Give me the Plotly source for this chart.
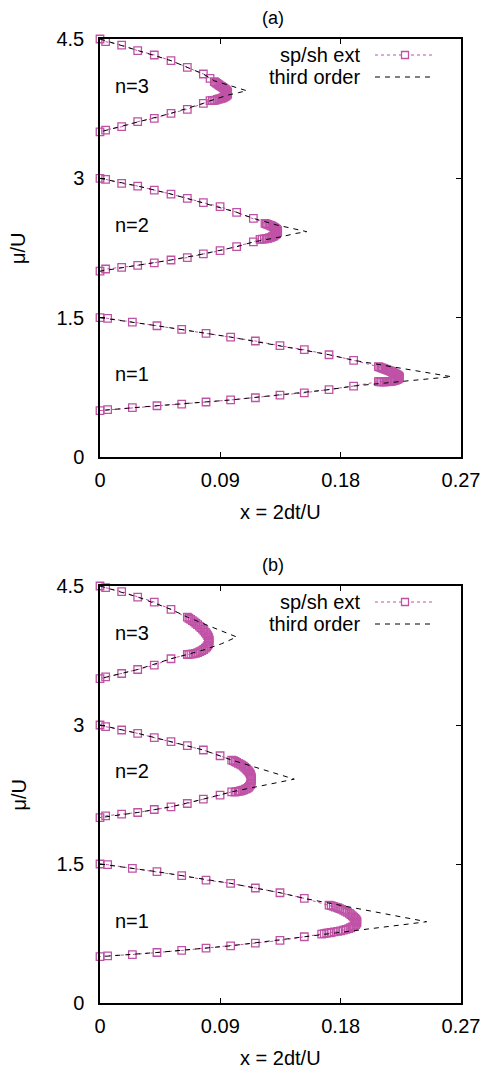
import plotly.graph_objects as go

# ---------------- data ----------------
# Panel (a): sp/sh ext markers, upper branch / dense tip arc / lower branch
a1_up_x = [0, 0.0057, 0.0242, 0.0426, 0.0611, 0.0793, 0.0977, 0.1162, 0.1346, 0.1528, 0.1713, 0.1897, 0.2082]
a1_up_y = [1.5, 1.493, 1.453, 1.413, 1.374, 1.331, 1.291, 1.249, 1.198, 1.155, 1.101, 1.041, 0.972]
a1_arc_x = [0.2092, 0.2102, 0.2112, 0.2122, 0.2132, 0.2142, 0.2152, 0.2162, 0.2172, 0.2181, 0.2190, 0.2199, 0.2208,
            0.2216, 0.2224, 0.2231, 0.2235, 0.2239, 0.2238, 0.2236, 0.2230, 0.2221, 0.2211, 0.2201, 0.2189, 0.2177,
            0.2165, 0.2152, 0.2140, 0.2127, 0.2115, 0.2102, 0.2092]
a1_arc_y = [0.967, 0.962, 0.957, 0.951, 0.946, 0.940, 0.935, 0.929, 0.924, 0.919, 0.911, 0.904, 0.897,
            0.890, 0.883, 0.876, 0.869, 0.861, 0.854, 0.847, 0.840, 0.833, 0.827, 0.822, 0.818, 0.815,
            0.813, 0.811, 0.810, 0.809, 0.809, 0.809, 0.810]
a1_lo_x = [0, 0.0057, 0.0242, 0.0426, 0.0611, 0.0793, 0.0977, 0.1162, 0.1346, 0.1528, 0.1713, 0.1897, 0.2082]
a1_lo_y = [0.5, 0.509, 0.531, 0.552, 0.570, 0.592, 0.614, 0.638, 0.667, 0.691, 0.725, 0.764, 0.811]

a2_up_x = [0, 0.0042, 0.0162, 0.0282, 0.0406, 0.0531, 0.0653, 0.0773, 0.0898, 0.1022, 0.1147, 0.1234]
a2_up_y = [3.0, 2.989, 2.946, 2.917, 2.874, 2.831, 2.785, 2.738, 2.695, 2.634, 2.569, 2.516]
a2_arc_x = [0.1244, 0.1254, 0.1264, 0.1274, 0.1284, 0.1294, 0.1302, 0.1309, 0.1315, 0.1321, 0.1325, 0.1329,
            0.1328, 0.1326, 0.1321, 0.1316, 0.1308, 0.1299, 0.1289, 0.1279, 0.1267, 0.1254, 0.1242, 0.1229, 0.1213]
a2_arc_y = [2.510, 2.505, 2.500, 2.494, 2.487, 2.480, 2.473, 2.465, 2.458, 2.451, 2.442, 2.433,
            2.424, 2.415, 2.406, 2.397, 2.388, 2.379, 2.372, 2.365, 2.359, 2.354, 2.350, 2.347, 2.345]
a2_lo_x = [0, 0.0042, 0.0162, 0.0282, 0.0406, 0.0531, 0.0653, 0.0773, 0.0898, 0.1022, 0.1147, 0.1197]
a2_lo_y = [2.0, 2.024, 2.042, 2.064, 2.089, 2.121, 2.146, 2.186, 2.221, 2.264, 2.315, 2.343]

a3_up_x = [0, 0.0042, 0.0162, 0.0282, 0.0406, 0.0531, 0.0653, 0.0773, 0.0823, 0.0855]
a3_up_y = [4.5, 4.471, 4.435, 4.374, 4.328, 4.267, 4.195, 4.123, 4.077, 4.041]
a3_arc_x = [0.0864, 0.0873, 0.0882, 0.0890, 0.0900, 0.0910, 0.0919, 0.0927, 0.0935, 0.0942, 0.0947, 0.0952,
            0.0954, 0.0955, 0.0954, 0.0950, 0.0943, 0.0935, 0.0926, 0.0915, 0.0903, 0.0890, 0.0878, 0.0865,
            0.0852, 0.0840]
a3_arc_y = [4.032, 4.023, 4.014, 4.005, 3.996, 3.987, 3.978, 3.969, 3.960, 3.951, 3.942, 3.933,
            3.924, 3.915, 3.906, 3.897, 3.888, 3.879, 3.872, 3.865, 3.859, 3.854, 3.849, 3.843,
            3.840, 3.838]
a3_lo_x = [0, 0.0042, 0.0162, 0.0282, 0.0406, 0.0531, 0.0653, 0.0773, 0.0823]
a3_lo_y = [3.5, 3.520, 3.556, 3.610, 3.646, 3.700, 3.743, 3.807, 3.836]

# Panel (a): third order (upper branch and lower branch, both ending at the tip)
t_a1_up_x = [0, 0.0426, 0.0977, 0.1346, 0.1713, 0.1897, 0.2082, 0.2343, 0.2531, 0.263]
t_a1_up_y = [1.5, 1.413, 1.291, 1.198, 1.101, 1.041, 0.996, 0.933, 0.887, 0.864]
t_a1_lo_x = [0, 0.0426, 0.0977, 0.1346, 0.1713, 0.1897, 0.2082, 0.2343, 0.2531, 0.263]
t_a1_lo_y = [0.5, 0.552, 0.614, 0.667, 0.725, 0.764, 0.789, 0.825, 0.851, 0.864]
t_a2_up_x = [0, 0.0282, 0.0531, 0.0773, 0.1022, 0.1147, 0.1321, 0.1434, 0.1546]
t_a2_up_y = [3.0, 2.917, 2.831, 2.738, 2.634, 2.569, 2.498, 2.462, 2.426]
t_a2_lo_x = [0, 0.0282, 0.0531, 0.0773, 0.1022, 0.1147, 0.1359, 0.1458, 0.1546]
t_a2_lo_y = [2.0, 2.064, 2.121, 2.186, 2.264, 2.315, 2.372, 2.405, 2.426]
t_a3_up_x = [0, 0.0282, 0.0531, 0.0773, 0.0855, 0.0955, 0.1035, 0.1097]
t_a3_up_y = [4.5, 4.374, 4.267, 4.123, 4.050, 4.006, 3.970, 3.943]
t_a3_lo_x = [0, 0.0282, 0.0531, 0.0773, 0.0823, 0.0960, 0.1035, 0.1097]
t_a3_lo_y = [3.5, 3.610, 3.700, 3.807, 3.835, 3.897, 3.922, 3.943]

# Panel (b): sp/sh ext markers
b1_up_x = [0, 0.0057, 0.0242, 0.0426, 0.0611, 0.0793, 0.0977, 0.1162, 0.1346, 0.1528, 0.1713]
b1_up_y = [1.5, 1.493, 1.453, 1.417, 1.374, 1.327, 1.291, 1.241, 1.190, 1.129, 1.057]
b1_arc_x = [0.1729, 0.1745, 0.1761, 0.1778, 0.1793, 0.1808, 0.1823, 0.1837, 0.1851, 0.1865, 0.1876, 0.1887,
            0.1897, 0.1907, 0.1914, 0.1920, 0.1922, 0.1920, 0.1912, 0.1900, 0.1887, 0.1874, 0.1860, 0.1840,
            0.1820, 0.1799, 0.1778, 0.1753, 0.1728, 0.1711, 0.1695, 0.1677]
b1_arc_y = [1.050, 1.042, 1.035, 1.028, 1.019, 1.010, 0.999, 0.988, 0.978, 0.967, 0.954, 0.941,
            0.927, 0.913, 0.900, 0.887, 0.874, 0.862, 0.847, 0.833, 0.822, 0.812, 0.803, 0.794,
            0.786, 0.779, 0.773, 0.768, 0.761, 0.757, 0.754, 0.749]
b1_lo_x = [0, 0.0057, 0.0242, 0.0426, 0.0611, 0.0793, 0.0977, 0.1162, 0.1346, 0.1528, 0.1658]
b1_lo_y = [0.5, 0.509, 0.523, 0.545, 0.567, 0.592, 0.617, 0.646, 0.675, 0.715, 0.744]

b2_up_x = [0, 0.0042, 0.0162, 0.0282, 0.0406, 0.0531, 0.0653, 0.0773, 0.0898, 0.0985]
b2_up_y = [3.0, 2.982, 2.946, 2.910, 2.863, 2.820, 2.777, 2.730, 2.668, 2.622]
b2_arc_x = [0.0998, 0.1010, 0.1022, 0.1035, 0.1048, 0.1060, 0.1072, 0.1082, 0.1091, 0.1099, 0.1107, 0.1114,
            0.1120, 0.1125, 0.1129, 0.1132, 0.1134, 0.1133, 0.1130, 0.1125, 0.1118, 0.1110, 0.1100, 0.1088,
            0.1075, 0.1062, 0.1048, 0.1035, 0.1022, 0.1010]
b2_arc_y = [2.615, 2.606, 2.596, 2.586, 2.577, 2.568, 2.556, 2.543, 2.531, 2.519, 2.507, 2.495,
            2.481, 2.467, 2.452, 2.434, 2.416, 2.396, 2.377, 2.358, 2.340, 2.327, 2.316, 2.307,
            2.300, 2.293, 2.288, 2.284, 2.280, 2.276]
b2_lo_x = [0, 0.0042, 0.0162, 0.0282, 0.0406, 0.0531, 0.0653, 0.0773, 0.0898, 0.0985]
b2_lo_y = [2.0, 2.020, 2.038, 2.056, 2.088, 2.117, 2.153, 2.200, 2.243, 2.279]

b3_up_x = [0, 0.0042, 0.0162, 0.0282, 0.0406, 0.0531, 0.0653]
b3_up_y = [4.5, 4.482, 4.439, 4.381, 4.327, 4.248, 4.165]
b3_arc_x = [0.0665, 0.0678, 0.0691, 0.0704, 0.0717, 0.0730, 0.0743, 0.0755, 0.0767, 0.0778, 0.0788, 0.0797,
            0.0805, 0.0811, 0.0815, 0.0817, 0.0816, 0.0812, 0.0806, 0.0798, 0.0788, 0.0776, 0.0762, 0.0747,
            0.0731, 0.0714, 0.0697, 0.0680, 0.0665]
b3_arc_y = [4.152, 4.140, 4.127, 4.113, 4.098, 4.083, 4.067, 4.051, 4.034, 4.017, 4.000, 3.983,
            3.965, 3.947, 3.930, 3.912, 3.895, 3.877, 3.860, 3.844, 3.829, 3.815, 3.802, 3.791,
            3.782, 3.774, 3.768, 3.764, 3.762]
b3_lo_x = [0, 0.0042, 0.0162, 0.0282, 0.0406, 0.0531, 0.0653]
b3_lo_y = [3.5, 3.520, 3.556, 3.599, 3.646, 3.715, 3.761]

# Panel (b): third order
t_b1_up_x = [0, 0.0426, 0.0977, 0.1346, 0.1528, 0.1713, 0.1957, 0.2256, 0.2443]
t_b1_up_y = [1.5, 1.417, 1.291, 1.190, 1.129, 1.078, 1.012, 0.930, 0.877]
t_b1_lo_x = [0, 0.0426, 0.0977, 0.1346, 0.1528, 0.1713, 0.1957, 0.2256, 0.2443]
t_b1_lo_y = [0.5, 0.545, 0.617, 0.675, 0.713, 0.746, 0.790, 0.843, 0.877]
t_b2_up_x = [0, 0.0282, 0.0531, 0.0773, 0.0985, 0.1134, 0.1259, 0.1359, 0.1453]
t_b2_up_y = [3.0, 2.910, 2.820, 2.730, 2.622, 2.556, 2.501, 2.457, 2.416]
t_b2_lo_x = [0, 0.0282, 0.0531, 0.0773, 0.0985, 0.1134, 0.1259, 0.1359, 0.1453]
t_b2_lo_y = [2.0, 2.056, 2.117, 2.200, 2.279, 2.323, 2.359, 2.388, 2.416]
t_b3_up_x = [0, 0.0282, 0.0531, 0.0653, 0.0786, 0.0910, 0.1022]
t_b3_up_y = [4.5, 4.381, 4.248, 4.165, 4.086, 4.014, 3.950]
t_b3_lo_x = [0, 0.0282, 0.0531, 0.0653, 0.0786, 0.0910, 0.1022]
t_b3_lo_y = [3.5, 3.599, 3.715, 3.761, 3.815, 3.877, 3.950]

x_tick_vals = [0, 0.09, 0.18, 0.27]
x_tick_text = ["0", "0.09", "0.18", "0.27"]
y_tick_vals = [0, 1.5, 3, 4.5]
y_tick_text = ["0", "1.5", "3", "4.5"]
lobe_labels = ["n=1", "n=2", "n=3"]
lobe_label_y = [0.89, 2.50, 3.99]
panel_titles = ["(a)", "(b)"]
series_names = ["sp/sh ext", "third order"]

# ---------------- helpers ----------------
def lobe_path(up_x, up_y, arc_x, arc_y, lo_x, lo_y):
    return up_x + arc_x + lo_x[::-1], up_y + arc_y + lo_y[::-1]

def tp_path(up_x, up_y, lo_x, lo_y):
    return up_x + lo_x[::-1][1:], up_y + lo_y[::-1][1:]

def join(paths):
    xs, ys = [], []
    for i, (px_, py_) in enumerate(paths):
        if i:
            xs.append(None)
            ys.append(None)
        xs += px_
        ys += py_
    return xs, ys

PINK = "#c052a6"
FONT = "Liberation Sans, Arial, sans-serif"
OFF = 8                       # page body margin of the browser
W, H = 489 - OFF, 1073 - OFF  # figure size so that figure + offset == window

panels = {
    "a": dict(
        m=[lobe_path(a1_up_x, a1_up_y, a1_arc_x, a1_arc_y, a1_lo_x, a1_lo_y),
           lobe_path(a2_up_x, a2_up_y, a2_arc_x, a2_arc_y, a2_lo_x, a2_lo_y),
           lobe_path(a3_up_x, a3_up_y, a3_arc_x, a3_arc_y, a3_lo_x, a3_lo_y)],
        t=[tp_path(t_a1_up_x, t_a1_up_y, t_a1_lo_x, t_a1_lo_y),
           tp_path(t_a2_up_x, t_a2_up_y, t_a2_lo_x, t_a2_lo_y),
           tp_path(t_a3_up_x, t_a3_up_y, t_a3_lo_x, t_a3_lo_y)],
        xa="x", ya="y", top=39, bottom=457),
    "b": dict(
        m=[lobe_path(b1_up_x, b1_up_y, b1_arc_x, b1_arc_y, b1_lo_x, b1_lo_y),
           lobe_path(b2_up_x, b2_up_y, b2_arc_x, b2_arc_y, b2_lo_x, b2_lo_y),
           lobe_path(b3_up_x, b3_up_y, b3_arc_x, b3_arc_y, b3_lo_x, b3_lo_y)],
        t=[tp_path(t_b1_up_x, t_b1_up_y, t_b1_lo_x, t_b1_lo_y),
           tp_path(t_b2_up_x, t_b2_up_y, t_b2_lo_x, t_b2_lo_y),
           tp_path(t_b3_up_x, t_b3_up_y, t_b3_lo_x, t_b3_lo_y)],
        xa="x2", ya="y2", top=586, bottom=1003),
}

fig = go.Figure()
annotations = []
shapes = []

LEFT, RIGHT = 100, 461

def px(x):
    # window pixel -> paper fraction
    return (x - OFF) / W

def py(y):
    return 1 - (y - OFF) / H

for i, (key, p) in enumerate(panels.items()):
    mx, my = join(p["m"])
    tx, ty = join(p["t"])
    fig.add_trace(go.Scatter(
        x=mx, y=my, xaxis=p["xa"], yaxis=p["ya"], mode="lines+markers",
        name=series_names[0], showlegend=False, cliponaxis=False,
        line=dict(color=PINK, width=1, dash="dot"),
        marker=dict(symbol="square-open", size=7.5, color=PINK, line=dict(width=1.3, color=PINK)),
    ))
    fig.add_trace(go.Scatter(
        x=tx, y=ty, xaxis=p["xa"], yaxis=p["ya"], mode="lines",
        name=series_names[1], showlegend=False, cliponaxis=False,
        line=dict(color="black", width=1, dash="5px,5px"),
    ))

    axis_common = dict(showline=True, linecolor="black", linewidth=1.5, mirror="allticks",
                       ticks="inside", ticklen=5, tickwidth=1, tickcolor="black",
                       showgrid=False, zeroline=False, automargin=False,
                       tickfont=dict(family=FONT, size=20, color="black"))
    xname = "xaxis" if i == 0 else "xaxis2"
    yname = "yaxis" if i == 0 else "yaxis2"
    fig.update_layout(**{
        xname: dict(axis_common, domain=[px(LEFT), px(RIGHT)], range=[0, 0.27],
                    tickvals=x_tick_vals, ticktext=x_tick_text, anchor=p["ya"],
                    ticklabelstandoff=4),
        yname: dict(axis_common, domain=[py(p["bottom"]), py(p["top"])], range=[0, 4.5],
                    tickvals=y_tick_vals, ticktext=y_tick_text, anchor=p["xa"],
                    ticklabelstandoff=10),
    })

    top, bottom = p["top"], p["bottom"]
    # panel title
    annotations.append(dict(text=panel_titles[i], x=px(273), y=py(top - 21), xref="paper", yref="paper",
                            showarrow=False, font=dict(family=FONT, size=18, color="black"),
                            xanchor="center", yanchor="middle"))
    # x axis title
    annotations.append(dict(text="x = 2dt/U", x=px(280), y=py(bottom + 55), xref="paper", yref="paper",
                            showarrow=False, font=dict(family=FONT, size=20, color="black"),
                            xanchor="center", yanchor="middle"))
    # y axis title
    annotations.append(dict(text="μ/U", x=px(18), y=py((top + bottom) / 2), xref="paper", yref="paper",
                            showarrow=False, textangle=-90, font=dict(family=FONT, size=20, color="black"),
                            xanchor="center", yanchor="middle"))
    # lobe labels
    for lab, ly in zip(lobe_labels, lobe_label_y):
        annotations.append(dict(text=lab, x=0.0236, y=ly, xref=p["xa"], yref=p["ya"],
                                showarrow=False, font=dict(family=FONT, size=20, color="black"),
                                xanchor="center", yanchor="middle"))
    # legend (gnuplot style: text on left, sample on right)
    leg_y = [top + 16, top + 38]
    for name, ly in zip(series_names, leg_y):
        annotations.append(dict(text=name, x=px(362), y=py(ly), xref="paper", yref="paper",
                                showarrow=False, font=dict(family=FONT, size=20, color="black"),
                                xanchor="right", yanchor="middle"))
    shapes.append(dict(type="line", xref="paper", yref="paper", x0=px(375), x1=px(435),
                       y0=py(leg_y[0]), y1=py(leg_y[0]), line=dict(color=PINK, width=1, dash="dot")))
    shapes.append(dict(type="rect", xref="paper", yref="paper", x0=px(401.5), x1=px(408.5),
                       y0=py(leg_y[0] + 3.5), y1=py(leg_y[0] - 3.5), line=dict(color=PINK, width=1.3),
                       fillcolor="white"))
    shapes.append(dict(type="line", xref="paper", yref="paper", x0=px(375), x1=px(435),
                       y0=py(leg_y[1]), y1=py(leg_y[1]), line=dict(color="black", width=1, dash="5px,5px")))

fig.update_layout(
    width=W, height=H, autosize=False,
    margin=dict(l=0, r=0, t=0, b=0),
    paper_bgcolor="white", plot_bgcolor="white",
    annotations=annotations, shapes=shapes,
    font=dict(family=FONT, color="black"),
    showlegend=False,
)

fig.write_html("out.html")
